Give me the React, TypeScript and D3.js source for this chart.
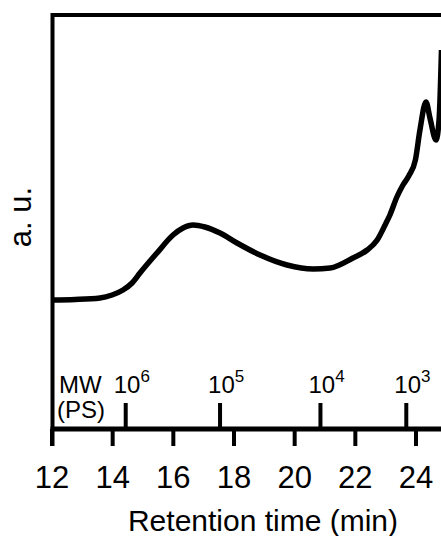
import React from "react";
import * as d3 from "d3";

// Retention time (min) and detector signal (a.u.)
const times = [12.0, 12.76, 13.58, 13.98, 14.34, 14.64, 14.9, 15.46, 15.99, 16.32, 16.65, 17.04, 17.54, 18.1, 18.86, 19.75, 20.61, 21.17, 21.92, 22.39, 22.72, 22.98, 23.14, 23.37, 23.57, 23.76, 23.98, 24.13, 24.33, 24.46, 24.66, 24.76, 24.84];
const signal = [0.0, 0.005, 0.02, 0.05, 0.1, 0.17, 0.27, 0.47, 0.65, 0.72, 0.75, 0.73, 0.67, 0.57, 0.45, 0.35, 0.31, 0.32, 0.42, 0.5, 0.6, 0.75, 0.85, 1.03, 1.15, 1.24, 1.4, 1.7, 1.98, 1.82, 1.6, 1.8, 2.5];

const xTicks = [12, 14, 16, 18, 20, 22, 24];
const mwTimes = [14.43, 17.54, 20.85, 23.68];
const mwExponents = ["6", "5", "4", "3"];

const W = 441;
const H = 536;

export default function App() {
  const x = d3.scaleLinear().domain([12, 24]).range([52, 416]);
  const y = d3.scaleLinear().domain([-1.29, 2.85]).range([429, 15]);
  const line = d3
    .line<number>()
    .x((_, i) => x(times[i]))
    .y((d) => y(d))
    .curve(d3.curveMonotoneX);

  const axisY = 429;
  const font = "'Liberation Sans', Arial, sans-serif";

  return (
    <svg
      width={W}
      height={H}
      style={{ position: "absolute", left: 0, top: 0, background: "#fff" }}
      fontFamily={font}
    >
      <defs>
        <clipPath id="plotclip">
          <rect x={52} y={0} width={W - 52} height={axisY} />
        </clipPath>
      </defs>
      {/* frame */}
      <line x1={52} x2={W} y1={15} y2={15} stroke="#000" strokeWidth={4} />
      <line x1={52.5} x2={52.5} y1={13} y2={446} stroke="#000" strokeWidth={4} />
      <line x1={50.5} x2={W} y1={axisY} y2={axisY} stroke="#000" strokeWidth={5} />

      {/* bottom ticks */}
      {xTicks.map((t) => (
        <g key={t}>
          <line x1={x(t)} x2={x(t)} y1={axisY} y2={446} stroke="#000" strokeWidth={4} />
          <text x={x(t)} y={488} textAnchor="middle" fontSize={31}>
            {t}
          </text>
        </g>
      ))}

      {/* MW ticks */}
      {mwTimes.map((t, i) => (
        <g key={t}>
          <line x1={x(t)} x2={x(t)} y1={403} y2={axisY} stroke="#000" strokeWidth={4} />
          <text x={x(t) - 12} y={393} fontSize={24}>
            10
            <tspan dy={-11} fontSize={17}>
              {mwExponents[i]}
            </tspan>
          </text>
        </g>
      ))}
      <text x={59} y={393} fontSize={24}>
        MW
      </text>
      <text x={57} y={418} fontSize={24}>
        (PS)
      </text>

      {/* curve */}
      <path
        d={line(signal) || ""}
        fill="none"
        stroke="#000"
        strokeWidth={5.5}
        strokeLinejoin="round"
        clipPath="url(#plotclip)"
      />

      {/* axis titles */}
      <text x={263} y={531} textAnchor="middle" fontSize={30}>
        Retention time (min)
      </text>
      <text
        transform="translate(31,217) rotate(-90)"
        textAnchor="middle"
        fontSize={31}
      >
        a. u.
      </text>
    </svg>
  );
}
